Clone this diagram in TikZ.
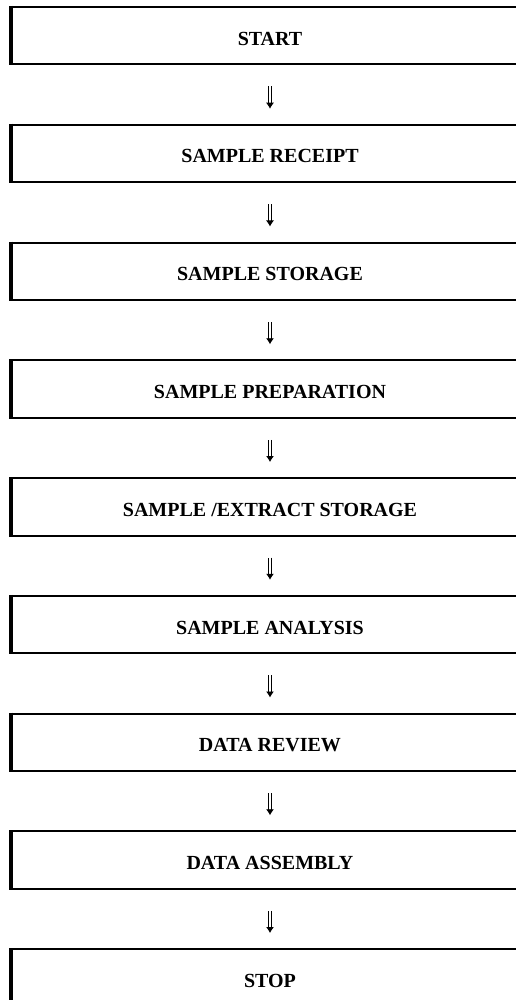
\documentclass[tikz,border=0pt]{standalone}
\usepackage{fontspec}
\setmainfont{Liberation Serif}
\usetikzlibrary{arrows.meta}
\tikzset{
  stepbox/.style={draw=black, line width=2pt, rectangle, minimum width=516pt, minimum height=57.5pt,
    inner sep=0pt, text height=19pt, text depth=0pt,
    font=\fontsize{20}{23}\selectfont\bfseries,
    append after command={\pgfextra{\draw[line width=3.4pt] (\tikzlastnode.north west) -- (\tikzlastnode.south west);}}},
  flowarrow/.style={draw=black, double=white, double distance=2.2pt, line width=0.9pt,
    shorten <=21pt, shorten >=15pt, -{Latex[length=6pt,width=8pt]}}
}
\begin{document}
\begin{tikzpicture}[x=1pt,y=-1pt]
\useasboundingbox (0,0) rectangle (516,1000);
\clip (0,0) rectangle (516,1000);
\node[stepbox] (b1) at (270,35.75) {START};
\node[stepbox] (b2) at (270,153.5) {SAMPLE RECEIPT};
\node[stepbox] (b3) at (270,271.25) {SAMPLE STORAGE};
\node[stepbox] (b4) at (270,389) {SAMPLE PREPARATION};
\node[stepbox] (b5) at (270,506.75) {SAMPLE /EXTRACT STORAGE};
\node[stepbox] (b6) at (270,624.5) {SAMPLE ANALYSIS};
\node[stepbox] (b7) at (270,742.25) {DATA REVIEW};
\node[stepbox] (b8) at (270,860) {DATA ASSEMBLY};
\node[stepbox] (b9) at (270,977.75) {STOP};
\foreach \a/\b in {b1/b2,b2/b3,b3/b4,b4/b5,b5/b6,b6/b7,b7/b8,b8/b9}{
  \draw[flowarrow] (\a.south) -- (\b.north);
}
\end{tikzpicture}
\end{document}
